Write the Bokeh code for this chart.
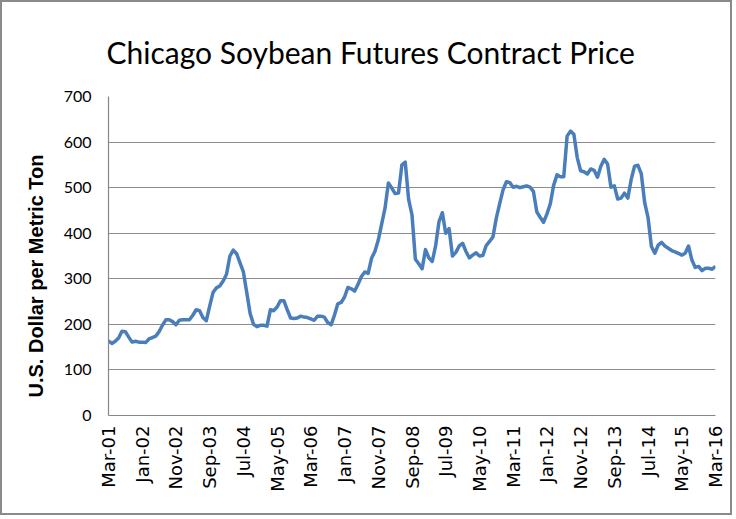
import math
from bokeh.plotting import figure
from bokeh.models import Range1d, FixedTicker, Title
from bokeh.embed import file_html
from bokeh.resources import INLINE

title_text = "Chicago Soybean Futures Contract Price"
y_label_text = "U.S. Dollar per Metric  Ton"

# x tick labels (every 10 months, starting Mar-01)
tick_labels = ["Mar-01", "Jan-02", "Nov-02", "Sep-03", "Jul-04", "May-05", "Mar-06",
               "Jan-07", "Nov-07", "Sep-08", "Jul-09", "May-10", "Mar-11", "Jan-12",
               "Nov-12", "Sep-13", "Jul-14", "May-15", "Mar-16"]
tick_step = 10
y_ticks = [0, 100, 200, 300, 400, 500, 600, 700]

# monthly prices, Mar-01 .. Mar-16 (USD per metric ton)
prices = [
    164, 158, 163, 170, 185, 184, 172, 161, 163, 161,
    161, 160, 168, 171, 174, 184, 198, 210, 210, 206,
    199, 209, 210, 210, 210, 220, 232, 230, 215, 208,
    240, 270, 280, 284, 295, 310, 350, 363, 355, 335,
    315, 270, 224, 200, 195, 198, 198, 196, 232, 230,
    238, 252, 252, 232, 214, 213, 214, 218, 216, 215,
    212, 209, 218, 218, 216, 204, 199, 220, 245, 248,
    260, 281, 278, 273, 288, 305, 315, 312, 345, 360,
    385, 420, 455, 510, 499, 487, 488, 550, 556, 474,
    440, 343, 333, 322, 364, 346, 338, 372, 425, 445,
    400, 410, 350, 358, 372, 378, 360, 346, 352, 357,
    350, 351, 373, 382, 392, 433, 465, 495, 513, 511,
    501, 503, 500, 502, 504, 501, 492, 447, 435, 424,
    442, 464, 505, 528, 524, 524, 613, 624, 617, 566,
    537, 535, 530, 541, 538, 523, 547, 562, 552, 501,
    504, 475, 477, 488, 477, 518, 547, 549, 530, 467,
    434, 371, 356, 374, 380, 372, 367, 362, 359, 356,
    352, 356, 372, 341, 325, 327, 318, 323, 323, 321,
    327,
]
months = list(range(len(prices)))

W, H = 732, 515
p = figure(width=W, height=H, output_backend="svg", toolbar_location=None,
           x_range=Range1d(0, len(prices) - 1), y_range=Range1d(0, 700),
           min_border_left=106, min_border_right=19, min_border_top=94,
           min_border_bottom=102)
p.styles = {"position": "absolute", "left": "0px", "top": "0px",
            "border": "2px solid #8a8a8a"}
p.outline_line_color = None
p.background_fill_color = "white"
p.border_fill_color = "white"

p.line(months, prices, line_color="#4a7ebb", line_width=3.5, line_join="round")

# title
p.title.text = title_text
p.title.text_font = "Lato"
p.title.text_font_size = "30px"
p.title.text_font_style = "normal"
p.title.text_color = "black"
p.title.align = "left"
p.title.offset = -2
p.title.standoff = 53

# y-axis title on the left, starting near the bottom of the frame
p.add_layout(Title(text=y_label_text, text_font="Liberation Sans", text_font_size="20px",
                   text_font_style="bold", text_color="black", align="left",
                   offset=18, standoff=28), "left")

# grid
p.xgrid.grid_line_color = None
p.ygrid.ticker = FixedTicker(ticks=y_ticks)
p.ygrid.grid_line_color = "#8c8c8c"
p.ygrid.grid_line_width = 1.2

# y axis
p.yaxis.ticker = FixedTicker(ticks=y_ticks)
p.yaxis.major_tick_line_color = None
p.yaxis.minor_tick_line_color = None
p.yaxis.major_tick_out = 0
p.yaxis.major_tick_in = 0
p.yaxis.axis_line_color = "#868686"
p.yaxis.axis_line_width = 1.2
p.yaxis.major_label_text_font = "Lato"
p.yaxis.major_label_text_font_size = "16px"
p.yaxis.major_label_text_color = "black"
p.yaxis.major_label_standoff = 17

# x axis
xt = [i * tick_step for i in range(len(tick_labels))]
p.xaxis.ticker = FixedTicker(ticks=xt)
p.xaxis.major_label_overrides = {t: lab for t, lab in zip(xt, tick_labels)}
p.xaxis.major_label_orientation = math.pi / 2
p.xaxis.major_tick_line_color = None
p.xaxis.minor_tick_line_color = None
p.xaxis.major_tick_out = 0
p.xaxis.major_tick_in = 0
p.xaxis.axis_line_color = "#868686"
p.xaxis.axis_line_width = 1.2
p.xaxis.major_label_text_font = "DejaVu Sans"
p.xaxis.major_label_text_font_size = "18px"
p.xaxis.major_label_text_color = "black"
p.xaxis.major_label_standoff = 10

open("out.html", "w").write(file_html(p, INLINE))
